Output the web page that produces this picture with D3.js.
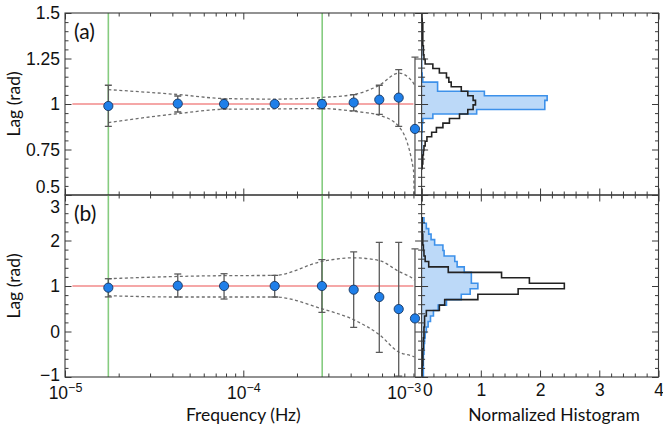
<!DOCTYPE html>
<html><head><meta charset="utf-8">
<script src="https://cdn.jsdelivr.net/npm/d3@7"></script>
<style>
body{margin:0;background:#fff}
svg{display:block;font-family:Lato,"Open Sans",sans-serif}
</style>
</head><body>
<svg id="chart" width="663" height="431"></svg>
<script>
// Frequency bins (Hz) of the measured lags
const freqs = [1.75e-5, 4.29e-5, 7.8e-5, 1.5e-4, 2.76e-4, 4.16e-4, 5.79e-4, 7.44e-4, 9.18e-4];

// Panel (a): lag and 1-sigma bounds (rad)
const lagA   = [0.989, 1.002, 1.0, 1.0, 1.0, 1.008, 1.024, 1.035, 0.863];
const errHiA = [1.103, 1.044, 1.027, 1.007, 1.022, 1.052, 1.103, 1.189, 1.258];
const errLoA = [0.877, 0.956, 0.973, 0.993, 0.973, 0.962, 0.943, 0.877, 0.30];

// Panel (b): lag and 1-sigma bounds (rad)
const lagB   = [0.963, 1.007, 1.0, 1.0, 1.0, 0.919, 0.758, 0.493, 0.287];
const errHiB = [1.16, 1.264, 1.27, 1.233, 1.58, 1.749, 1.96, 1.96, 1.815];
const errLoB = [0.76, 0.758, 0.714, 0.758, 0.419, 0.089, -0.46, -0.98, -1.6];

// Simulated spread envelopes (dashed)
const envFreqs = [1.75e-5, 4.29e-5, 7.8e-5, 1.5e-4, 2.76e-4, 4.16e-4, 5.79e-4, 7.44e-4, 9.0e-4, 9.12e-4];
const envHiA = [1.079, 1.052, 1.030, 1.027, 1.036, 1.052, 1.103, 1.170, 1.115, 1.10];
const envLoA = [0.898, 0.947, 0.971, 0.973, 0.975, 0.960, 0.938, 0.877, 0.64, 0.40];
const envHiB = [1.16, 1.21, 1.227, 1.233, 1.54, 1.62, 1.56, 1.32, 1.15, 1.13];
const envLoB = [0.786, 0.758, 0.758, 0.758, 0.50, 0.258, -0.07, -0.45, -0.55, -0.56];

// Reference lag and marked frequencies
const trueLag = 1;
const lagLineFreqs = [1.1e-5, 9.0e-4];
const markFreqs = [1.75e-5, 2.77e-4];

// Histograms: lower bin edges (rad) and normalized heights
const histWidthA = 0.025;
const binsA = [0.645, 0.67, 0.695, 0.72, 0.745, 0.77, 0.795, 0.82, 0.845, 0.87, 0.895, 0.92, 0.945, 0.97, 0.995, 1.02, 1.045, 1.07, 1.095, 1.12, 1.145, 1.17, 1.195, 1.22, 1.245, 1.27, 1.295, 1.32, 1.345, 1.37, 1.395, 1.42, 1.445];
const histBlueA  = [0, 0, 0, 0, 0, 0, 0, 0, 0.01, 0.01, 0.02, 0.19, 0.93, 2.08, 2.08, 2.12, 1.06, 0.27, 0.27, 0.02, 0.01, 0, 0, 0, 0, 0, 0, 0, 0, 0, 0, 0, 0];
const histBlackA = [0.01, 0.02, 0.02, 0.03, 0.04, 0.06, 0.09, 0.17, 0.25, 0.36, 0.47, 0.64, 0.78, 0.87, 0.91, 0.87, 0.78, 0.67, 0.50, 0.46, 0.42, 0.30, 0.19, 0.06, 0.04, 0.03, 0.03, 0.02, 0.02, 0.02, 0.02, 0.02, 0.01];

const histWidthB = 0.12;
const binsB = [-0.98, -0.86, -0.74, -0.62, -0.50, -0.38, -0.26, -0.14, -0.02, 0.10, 0.22, 0.34, 0.46, 0.58, 0.70, 0.82, 0.94, 1.06, 1.18, 1.30, 1.42, 1.54, 1.66, 1.78, 1.90, 2.02, 2.14, 2.26, 2.38];
const histBlueB  = [0.03, 0.03, 0.03, 0.03, 0.04, 0.04, 0.05, 0.06, 0.08, 0.11, 0.15, 0.20, 0.28, 0.42, 0.67, 0.82, 0.95, 0.84, 0.84, 0.72, 0.60, 0.56, 0.38, 0.36, 0.22, 0.16, 0.12, 0.08, 0.04];
const histBlackB = [0.01, 0.01, 0.02, 0.02, 0.02, 0.03, 0.03, 0.04, 0.04, 0.05, 0.05, 0.08, 0.30, 0.39, 0.95, 1.63, 2.41, 1.82, 1.35, 0.45, 0.12, 0.06, 0.04, 0.03, 0.02, 0.02, 0.01, 0.01, 0.01];

const yTicksA = [0.5, 0.75, 1, 1.25, 1.5];
const yTicksB = [-1, 0, 1, 2, 3];
const xTicks = [1e-5, 1e-4, 1e-3];
const histTicks = [0, 1, 2, 3, 4];

// ---- layout ----
const svg = d3.select("#chart");
const L = 65, M = 421.6, R = 658.5;
const top1 = 13, mid = 195, bot = 377;
const FS = "17.5px";

const x = d3.scaleLog().domain([1e-5, 1e-3]).range([L, M]);
const h = d3.scaleLinear().domain([0, 4]).range([M, R]);
const yA = d3.scaleLinear().domain([0.5, 1.5]).range([mid, top1]);
const yB = d3.scaleLinear().domain([-1, 3]).range([bot, mid]);

const ink = "#3a3a3a";
const MAJ = 6.5, MIN = 3.5;

const defs = svg.append("defs");
function clip(id, x0, y0, w, hh) {
  defs.append("clipPath").attr("id", id).append("rect")
    .attr("x", x0).attr("y", y0).attr("width", w).attr("height", hh);
  return "url(#" + id + ")";
}

const fmtY = d => d < 0 ? "\u2212" + Math.abs(d) : String(d);

function styleAxis(g) {
  g.select(".domain").remove();
  g.selectAll(".tick line").attr("stroke", ink).attr("stroke-width", 1);
  g.selectAll(".tick text").attr("fill", "#111").style("font-size", FS);
}

function minorRange(a, b, step, majors) {
  return d3.range(a, b + step / 2, step).map(v => +v.toFixed(4))
    .filter(v => !majors.some(m => Math.abs(m - v) < 1e-6));
}

function panel(yS, yTicks, yMinorStep, lag, hi, lo, envHi, envLo, bins, w, blue, black, label, isBottom, pid) {
  const [y0, y1] = [yS.range()[1], yS.range()[0]];
  const yMinor = minorRange(yS.domain()[0], yS.domain()[1], yMinorStep, yTicks);

  // ---- frequency panel ----
  const gL = svg.append("g").attr("clip-path", clip("cl" + pid, L, y0, M - L, y1 - y0));

  gL.selectAll("line.mark").data(markFreqs).join("line")
    .attr("x1", d => x(d)).attr("x2", d => x(d)).attr("y1", y0).attr("y2", y1)
    .attr("stroke", "#86cc80").attr("stroke-width", 1.6);

  gL.append("line")
    .attr("x1", x(lagLineFreqs[0])).attr("x2", x(lagLineFreqs[1]))
    .attr("y1", yS(trueLag)).attr("y2", yS(trueLag))
    .attr("stroke", "#f28a8a").attr("stroke-width", 1.6);

  const env = d3.line().curve(d3.curveMonotoneX).x(d => x(d[0])).y(d => yS(d[1]));
  [envHi, envLo].forEach(arr => {
    gL.append("path").datum(envFreqs.map((f, i) => [f, arr[i]]))
      .attr("d", env).attr("fill", "none").attr("stroke", "#6e6e6e")
      .attr("stroke-width", 1.3).attr("stroke-dasharray", "3,2.5");
  });

  const eb = gL.append("g").attr("stroke", "#5a5a5a").attr("stroke-width", 1.3);
  freqs.forEach((f, i) => {
    const cx = x(f);
    eb.append("line").attr("x1", cx).attr("x2", cx).attr("y1", yS(hi[i])).attr("y2", yS(lo[i]));
    [hi[i], lo[i]].forEach(v => eb.append("line")
      .attr("x1", cx - 3.5).attr("x2", cx + 3.5).attr("y1", yS(v)).attr("y2", yS(v)));
  });

  gL.selectAll("circle").data(freqs).join("circle")
    .attr("cx", d => x(d)).attr("cy", (d, i) => yS(lag[i])).attr("r", 4.6)
    .attr("fill", "#1f7fe9").attr("stroke", "#17365f").attr("stroke-width", 0.9);

  // ---- histogram panel ----
  const gH = svg.append("g").attr("clip-path", clip("ch" + pid, M, y0, R - M, y1 - y0));
  const step = (heights) => {
    const pts = [[0, bins[0]]];
    bins.forEach((b, i) => { pts.push([heights[i], b]); pts.push([heights[i], b + w]); });
    pts.push([0, bins[bins.length - 1] + w]);
    return pts;
  };
  const hl = d3.line().x(d => h(d[0])).y(d => yS(d[1]));
  gH.append("path").datum(step(blue)).attr("d", hl)
    .attr("fill", "#bcd9f8").attr("stroke", "#3d91ea").attr("stroke-width", 1.6);
  gH.append("path").datum(step(black)).attr("d", hl)
    .attr("fill", "none").attr("stroke", "#222").attr("stroke-width", 1.6);

  // ---- axes: ticks point inward on every spine ----
  const ax = (gen, tx, ty) => svg.append("g").attr("transform", `translate(${tx},${ty})`).call(gen).call(styleAxis);
  const xMinor = x.ticks().filter(v => !xTicks.some(m => Math.abs(Math.log10(m) - Math.log10(v)) < 1e-6));
  const hMinor = minorRange(0, 4, 0.2, histTicks);

  // left y axis with labels
  const gy = ax(d3.axisLeft(yS).tickValues(yTicks).tickSize(-MAJ).tickSizeOuter(0).tickPadding(5).tickFormat(fmtY), L, 0);
  ax(d3.axisLeft(yS).tickValues(yMinor).tickSize(-MIN).tickSizeOuter(0).tickFormat(""), L, 0);
  // shared spine between the two plots: ticks to both sides
  ax(d3.axisRight(yS).tickValues(yTicks).tickSize(-MAJ).tickSizeOuter(0).tickFormat(""), M, 0);
  ax(d3.axisRight(yS).tickValues(yMinor).tickSize(-MIN).tickSizeOuter(0).tickFormat(""), M, 0);
  ax(d3.axisLeft(yS).tickValues(yTicks).tickSize(-MAJ).tickSizeOuter(0).tickFormat(""), M, 0);
  ax(d3.axisLeft(yS).tickValues(yMinor).tickSize(-MIN).tickSizeOuter(0).tickFormat(""), M, 0);
  ax(d3.axisRight(yS).tickValues(yTicks).tickSize(-MAJ).tickSizeOuter(0).tickFormat(""), R, 0);
  ax(d3.axisRight(yS).tickValues(yMinor).tickSize(-MIN).tickSizeOuter(0).tickFormat(""), R, 0);

  // top and bottom spines
  ax(d3.axisTop(x).tickValues(xTicks).tickSize(-MAJ).tickSizeOuter(0).tickFormat(""), 0, y0);
  ax(d3.axisTop(x).tickValues(xMinor).tickSize(-MIN).tickSizeOuter(0).tickFormat(""), 0, y0);
  ax(d3.axisTop(h).tickValues(histTicks).tickSize(-MAJ).tickSizeOuter(0).tickFormat(""), 0, y0);
  ax(d3.axisTop(h).tickValues(hMinor).tickSize(-MIN).tickSizeOuter(0).tickFormat(""), 0, y0);
  const gx = ax(d3.axisBottom(x).tickValues(xTicks).tickSize(-MAJ).tickSizeOuter(0).tickFormat(""), 0, y1);
  ax(d3.axisBottom(x).tickValues(xMinor).tickSize(-MIN).tickSizeOuter(0).tickFormat(""), 0, y1);
  const gh = ax(d3.axisBottom(h).tickValues(histTicks).tickSize(-MAJ).tickSizeOuter(0).tickPadding(7)
    .tickFormat(isBottom ? d3.format("d") : ""), 0, y1);
  ax(d3.axisBottom(h).tickValues(hMinor).tickSize(-MIN).tickSizeOuter(0).tickFormat(""), 0, y1);

  // frame
  svg.append("rect").attr("x", L).attr("y", y0).attr("width", R - L).attr("height", y1 - y0)
    .attr("fill", "none").attr("stroke", ink).attr("stroke-width", 1.1);
  svg.append("line").attr("x1", M).attr("x2", M).attr("y1", y0).attr("y2", y1)
    .attr("stroke", ink).attr("stroke-width", 1.1);

  // panel label
  svg.append("text").attr("x", L + 9).attr("y", y0 + 26).text(label)
    .style("font-size", "21px").attr("fill", "#111");

  return { gy, gx, gh };
}

const pa = panel(yA, yTicksA, 0.05, lagA, errHiA, errLoA, envHiA, envLoA, binsA, histWidthA, histBlueA, histBlackA, "(a)", false, "a");
const pb = panel(yB, yTicksB, 0.2, lagB, errHiB, errLoB, envHiB, envLoB, binsB, histWidthB, histBlueB, histBlackB, "(b)", true, "b");

// keep edge labels of the two stacked panels and the axis corner apart
pa.gy.selectAll(".tick").filter(d => d === 0.5).select("text").attr("dy", "-0.15em");
pb.gy.selectAll(".tick").filter(d => d === 3).select("text").attr("dy", "1.0em");
pb.gy.selectAll(".tick").filter(d => d === -1).select("text").attr("dy", "0.22em");

// decade labels as powers of ten
pb.gx.selectAll(".tick").each(function(d) {
  const e = Math.round(Math.log10(d));
  const t = d3.select(this).append("text").attr("y", 22).attr("fill", "#111")
    .style("font-size", FS).attr("text-anchor", e === -3 ? "end" : "middle")
    .attr("x", e === -3 ? -1 : 0);
  t.append("tspan").text("10");
  t.append("tspan").attr("dy", "-0.55em").style("font-size", "12.5px").text("\u2212" + Math.abs(e));
});
pb.gh.selectAll(".tick").filter(d => d === 0).select("text").attr("text-anchor", "start").attr("x", 1);

// axis titles
[yA, yB].forEach(yS => {
  svg.append("text").attr("transform", `translate(20,${yS(1)}) rotate(-90)`).attr("text-anchor", "middle")
    .style("font-size", FS).attr("fill", "#111").text("Lag (rad)");
});
svg.append("text").attr("x", (L + M) / 2).attr("y", 421).attr("text-anchor", "middle")
  .style("font-size", FS).attr("fill", "#111").text("Frequency (Hz)");
svg.append("text").attr("x", (M + R) / 2 + 14).attr("y", 421).attr("text-anchor", "middle")
  .style("font-size", FS).attr("fill", "#111").text("Normalized Histogram");
</script>
</body></html>
